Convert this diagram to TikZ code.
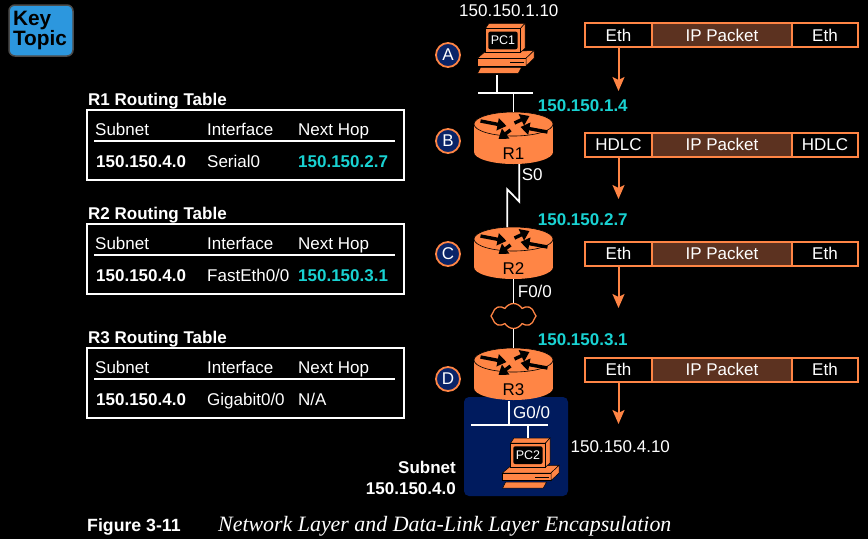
\documentclass[tikz,border=0pt]{standalone}
\usepackage{xcolor}
\usepackage{fontspec}
\usetikzlibrary{arrows.meta,shapes.symbols}
\setmainfont{Liberation Sans}
\newfontfamily\capfont{Liberation Serif}
\definecolor{PktOrange}{HTML}{FF8545}
\definecolor{PktBrown}{HTML}{5C3220}
\definecolor{HopCyan}{HTML}{19D2D2}
\definecolor{BadgeNavy}{HTML}{0A2468}
\definecolor{SubnetBlue}{HTML}{001B5E}
\definecolor{KeyBlue}{HTML}{2C97DE}
\newcommand{\lblfont}{\fontsize{17}{20}\selectfont}
\tikzset{
  lbl/.style={anchor=base west, inner sep=0pt, text=white, font=\lblfont},
  lblbold/.style={lbl, font=\lblfont\bfseries},
  lblhop/.style={lblbold, text=HopCyan},
  tablebox/.style={draw=white, line width=1.7pt, minimum width=317pt, minimum height=70pt, inner sep=0pt},
  cell/.style={draw=PktOrange, line width=2pt, minimum height=24pt, inner xsep=0pt, inner ysep=0pt,
    text height=12pt, text depth=0pt, text=white, font=\lblfont},
  badge/.style={circle, draw=PktOrange, fill=BadgeNavy, line width=1.8pt, minimum size=24pt, inner sep=0pt,
    text=white, font=\lblfont},
  wire/.style={draw=white, line width=1.7pt},
  pktarrow/.style={draw=PktOrange, line width=2pt, -{Stealth[length=14pt,width=12pt,inset=3pt]}},
  routerarrow/.style={draw=black, line width=3.4pt, -{Triangle[length=9pt,width=12pt]}},
  pics/router/.style={code={
    \fill[PktOrange] (0,28) ellipse [x radius=39.5pt, y radius=12pt];
    \fill[PktOrange] (-39.5,0) rectangle (39.5,28);
    \draw[fill=PktOrange, line width=0.6pt] (0,0) ellipse [x radius=39.5pt, y radius=12pt];
    \draw[routerarrow] (-33,-3) -- (-7,2);
    \draw[routerarrow] (1,-1) -- (16,-8);
    \draw[routerarrow] (34,8) -- (7,3);
    \draw[routerarrow] (-3,6) -- (-15,15);
    \node[anchor=base, inner sep=0pt, text=black, font=\lblfont] (-label) at (0,35.5) {#1};
    \coordinate (-top) at (0,-12);
    \coordinate (-bot) at (0,40);
  }},
  pics/computer/.style={code={
    \draw[fill=PktOrange, line width=0.5pt] (-26,18) -- (-18,11.3) -- (30.7,10.3) -- (22.7,18) -- cycle;
    \draw[fill=PktOrange, line width=0.5pt] (-26,18) rectangle (22.7,25.7);
    \draw[fill=PktOrange, line width=0.5pt] (22.7,18) -- (30.7,10.3) -- (30.7,18) -- (22.7,25.7) -- cycle;
    \draw[line width=0.6pt] (6.7,22) -- (20.7,22);
    \draw[fill=PktOrange, line width=0.5pt] (-22.7,27) -- (18.3,27) -- (15,33) -- (-25.7,33) -- cycle;
    \draw[fill=PktOrange, line width=0.5pt] (-17.7,-12) -- (-14.3,-17) -- (21.7,-17) -- (17.3,-12) -- cycle;
    \draw[fill=PktOrange, line width=0.5pt] (17.3,-12) -- (21.7,-17) -- (21.7,8) -- (17.3,12) -- cycle;
    \draw[fill=PktOrange, line width=0.5pt] (-17.7,-12) rectangle (17.3,12);
    \fill[black, rounded corners=2pt] (-15,-8.7) rectangle (14.3,9);
    \node[inner sep=0pt, text=white, font=\fontsize{12.5}{14}\selectfont] (-label) at (-0.3,0.3) {#1};
    \coordinate (-top) at (0,-17);
    \coordinate (-foot) at (-6,33);
  }},
}

\begin{document}
\begin{tikzpicture}[x=1pt, y=-1pt]
  \useasboundingbox (0,0) rectangle (868,539);
  \fill[black] (0,0) rectangle (868,539);

  % key topic tag
  \node[draw=black!70!white, fill=KeyBlue, line width=1.5pt, rounded corners=6pt,
        minimum width=64pt, minimum height=51pt, inner sep=0pt, text width=56pt, align=left,
        font=\fontsize{20.8}{19.5}\selectfont\bfseries] (keytopic) at (41,30.5) {Key\\Topic};

  % routing tables
  \foreach \n/\yy/\iface/\hop/\hopstyle in {1/110/Serial0/150.150.2.7/lblhop,
      2/224/FastEth0\slash 0/150.150.3.1/lblhop, 3/348/Gigabit0\slash 0/N\slash A/lbl} {
    \node[lblbold] (t\n title) at (88,\yy-5) {R\n\ Routing Table};
    \node[tablebox] (t\n box) at (245.5,\yy+35) {};
    \node[lbl] (t\n subnet) at (95,\yy+25.5) {Subnet};
    \node[lbl] (t\n iface) at (207,\yy+25.5) {Interface};
    \node[lbl] (t\n hop) at (298,\yy+25.5) {Next Hop};
    \draw[wire] (94,\yy+30.8) -- (395,\yy+30.8);
    \node[lblbold] (t\n dest) at (96,\yy+57) {150.150.4.0};
    \node[lbl] (t\n out) at (207,\yy+57) {\iface};
    \node[\hopstyle] (t\n next) at (298,\yy+57) {\hop};
  }

  % subnet block behind R3
  \fill[SubnetBlue, rounded corners=5pt] (464,397) rectangle (568,496);

  % routers and hosts
  \pic (pc1) at (503.3,40.3) {computer=PC1};
  \pic (r1) at (513.5,124) {router=R1};
  \pic (r2) at (513.5,239) {router=R2};
  \pic (r3) at (513.5,360) {router=R3};
  \pic (pc2) at (528.3,455) {computer=PC2};
  \node[cloud, cloud puffs=8, cloud puff arc=120, aspect=1.7, draw=PktOrange, fill=black, line width=1.3pt,
        minimum width=45pt, minimum height=25pt, inner sep=0pt] (wan) at (513.5,316) {};

  % lans and links
  \coordinate (lan1l) at (478,93);
  \coordinate (lan1r) at (533,93);
  \coordinate (lan1a) at (497.3,93);
  \coordinate (lan1b) at (513.5,93);
  \coordinate (pc1foot) at (497.3,75);
  \coordinate (lan2l) at (471,425);
  \coordinate (lan2r) at (548,425);
  \coordinate (lan2a) at (509,425);
  \coordinate (lan2b) at (528.3,425);
  \coordinate (r3foot) at (509,401);
  \coordinate (r1foot) at (519.3,164);
  \coordinate (kink1) at (519.3,201.7);
  \coordinate (kink2) at (507.3,189.3);
  \coordinate (r2head) at (507.3,227);
  \coordinate (r2foot) at (513.5,279);
  \coordinate (r3head) at (513.5,348);
  \draw[wire] (lan1l) -- (lan1r);
  \draw[wire] (pc1foot) -- (lan1a);
  \draw[wire] (lan1b) -- (r1-top);
  \draw[wire] (r1foot) -- (kink1) -- (kink2) -- (r2head);
  \draw[wire] (r2foot) -- (wan.north);
  \draw[wire] (wan.south) -- (r3head);
  \draw[wire] (lan2l) -- (lan2r);
  \draw[wire] (r3foot) -- (lan2a);
  \draw[wire] (lan2b) -- (pc2-top);

  % step badges
  \node[badge] (stepa) at (448,55) {A};
  \node[badge] (stepb) at (448,141) {B};
  \node[badge] (stepc) at (448,254) {C};
  \node[badge] (stepd) at (448,379) {D};

  % addresses and interfaces
  \node[lbl] (pc1ip) at (459,16) {150.150.1.10};
  \node[lblhop] (r1ip) at (537.7,111) {150.150.1.4};
  \node[lblhop] (r2ip) at (537.7,225.5) {150.150.2.7};
  \node[lblhop] (r3ip) at (537.7,345.5) {150.150.3.1};
  \node[lbl] (pc2ip) at (570.5,452) {150.150.4.10};
  \node[lbl] (s0) at (521.7,180.5) {S0};
  \node[lbl] (f00) at (517.7,297) {F0/0};
  \node[lbl] (g00) at (513,418) {G0/0};
  \node[lblbold, anchor=base east] (subnetname) at (456,473) {Subnet};
  \node[lblbold, anchor=base east] (subnetip) at (456,494) {150.150.4.0};

  % frames with their arrows
  \foreach \n/\yy/\hdr/\yend in {1/35/Eth/91, 2/144.5/HDLC/199, 3/253.5/Eth/308, 4/369.5/Eth/424} {
    \node[cell, fill=PktBrown, minimum width=140pt] (f\n ip) at (722,\yy) {IP Packet};
    \node[cell, minimum width=67pt] (f\n head) at (618.5,\yy) {\hdr};
    \node[cell, minimum width=66pt] (f\n tail) at (825,\yy) {\hdr};
    \coordinate (f\n end) at (618.5,\yend);
    \draw[pktarrow] (f\n head.south) -- (f\n end);
  }

  % caption
  \node[anchor=base west, inner sep=0pt, text=white, font=\fontsize{17.7}{22}\selectfont\bfseries] (figno) at (87,531.7) {Figure 3-11};
  \node[anchor=base west, inner sep=0pt, text=white, font=\capfont\itshape\fontsize{21.9}{24}\selectfont] (figtitle) at (218,531.7)
    {Network Layer and Data-Link Layer Encapsulation};
\end{tikzpicture}
\end{document}
